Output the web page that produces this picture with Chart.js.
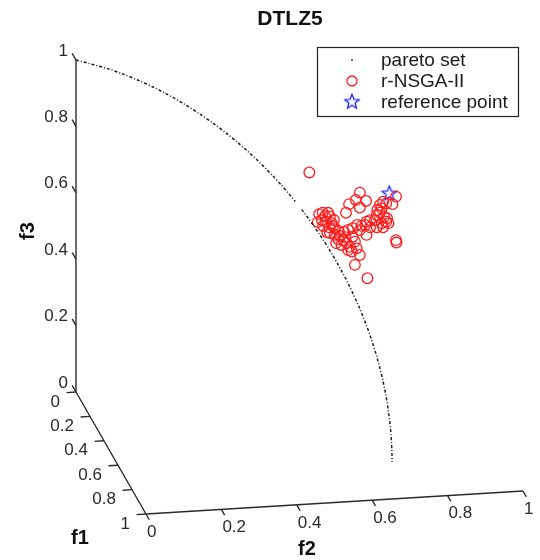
<!DOCTYPE html>
<html>
<head>
<meta charset="utf-8">
<title>DTLZ5</title>
<script src="https://cdn.jsdelivr.net/npm/chart.js@4.4.1/dist/chart.umd.min.js"></script>
<style>
  html, body { margin: 0; padding: 0; background: #fff; }
  #wrap { width: 540px; height: 560px; }
</style>
</head>
<body>
<div id="wrap"><canvas id="dtlzChart" width="540" height="560"></canvas></div>
<script>
// DTLZ5 pareto front: a curve, on it f1 and f2 are equal (null = gap in the plotted set)
let paretoF12 = [0, 0.0706, 0.0998, 0.1407, 0.1719, 0.1980, 0.2208, 0.2412, 0.2771, 0.3082,
                 0.3359, 0.3608, 0.3837, 0.4047, 0.4243, 0.4425, 0.4596, 0.4756, 0.4907, null,
                 0.5050, 0.5185, 0.5312, 0.5433, 0.5548, 0.5657, 0.5760, 0.5858, 0.5951, 0.6040,
                 0.6124, 0.6203, 0.6279, 0.6350, 0.6417, 0.6481, 0.6541, 0.6597, 0.6650, 0.6699,
                 0.6745, 0.6788, 0.6828, 0.6864, 0.6898, 0.6928, 0.6956, 0.6980, 0.7001, 0.7020,
                 0.7036, 0.7048, 0.7058, 0.7065, 0.7070, 0.7071],
    paretoF3 = [1.00, 0.995, 0.99, 0.98, 0.97, 0.96, 0.95, 0.94, 0.92, 0.90,
                0.88, 0.86, 0.84, 0.82, 0.80, 0.78, 0.76, 0.74, 0.72, null,
                0.70, 0.68, 0.66, 0.64, 0.62, 0.60, 0.58, 0.56, 0.54, 0.52,
                0.50, 0.48, 0.46, 0.44, 0.42, 0.40, 0.38, 0.36, 0.34, 0.32,
                0.30, 0.28, 0.26, 0.24, 0.22, 0.20, 0.18, 0.16, 0.14, 0.12,
                0.10, 0.08, 0.06, 0.04, 0.02, 0.00],

    // r-NSGA-II final population (f1 taken equal to f2)
    nsgaF12 = [0.522, 0.635, 0.611, 0.626, 0.649, 0.635, 0.604, 0.716, 0.708, 0.687,
               0.680, 0.674, 0.673, 0.680, 0.689, 0.669, 0.694, 0.699, 0.684, 0.650,
               0.639, 0.658, 0.673, 0.687, 0.629, 0.619, 0.609, 0.619, 0.650, 0.635,
               0.716, 0.717, 0.552, 0.564, 0.568, 0.550, 0.559, 0.572, 0.553, 0.567,
               0.579, 0.568, 0.579, 0.591, 0.587, 0.598, 0.594, 0.606, 0.613, 0.624,
               0.628, 0.617, 0.609, 0.635, 0.624, 0.652, 0.658, 0.647, 0.696, 0.684,
               0.694, 0.557, 0.577, 0.562, 0.588, 0.602, 0.544, 0.541, 0.575, 0.600,
               0.582],
    nsgaF3 = [0.817, 0.790, 0.748, 0.765, 0.769, 0.745, 0.720, 0.802, 0.777, 0.778,
              0.766, 0.749, 0.734, 0.743, 0.733, 0.717, 0.720, 0.717, 0.712, 0.707,
              0.691, 0.692, 0.697, 0.701, 0.691, 0.678, 0.670, 0.652, 0.667, 0.677,
              0.671, 0.664, 0.705, 0.708, 0.698, 0.682, 0.680, 0.679, 0.665, 0.665,
              0.666, 0.648, 0.646, 0.646, 0.635, 0.636, 0.620, 0.629, 0.620, 0.639,
              0.620, 0.607, 0.609, 0.602, 0.569, 0.537, 0.714, 0.696, 0.731, 0.757,
              0.775, 0.696, 0.690, 0.649, 0.660, 0.646, 0.698, 0.673, 0.671, 0.661,
              0.622],

    refF1 = [0.701],
    refF2 = [0.701],
    refF3 = [0.808],

    axisTicks = [0, 0.2, 0.4, 0.6, 0.8, 1],
    tickLabels = ['0', '0.2', '0.4', '0.6', '0.8', '1'];

// screen direction of one unit along f1, f2 and f3 (the 3D view)
const viewF1 = [0.2108, -0.3675],
      viewF2 = [1.1355, 0.0693],
      viewF3 = [0, 1];

function project(f1, f2, f3) {
    if (f1 === null || f2 === null || f3 === null) {
        return { x: null, y: null };
    }
    return {
        x: f1 * viewF1[0] + f2 * viewF2[0] + f3 * viewF3[0],
        y: f1 * viewF1[1] + f2 * viewF2[1] + f3 * viewF3[1]
    };
}

const paretoPoints = paretoF3.map((f3, i) => project(paretoF12[i], paretoF12[i], f3));
const nsgaPoints = nsgaF3.map((f3, i) => project(nsgaF12[i], nsgaF12[i], f3));
const refPoints = refF3.map((f3, i) => project(refF1[i], refF2[i], f3));

// blue five pointed star marker, drawn once
function makeStar(color) {
    const c = document.createElement('canvas');
    c.width = 18;
    c.height = 18;
    const g = c.getContext('2d');
    g.strokeStyle = color;
    g.lineWidth = 1.2;
    g.beginPath();
    for (let k = 0; k < 10; k++) {
        const r = k % 2 === 0 ? 7.6 : 3.3;
        const a = -Math.PI / 2 + k * Math.PI / 5;
        const x = 9 + r * Math.cos(a), y = 9.5 + r * Math.sin(a);
        if (k === 0) g.moveTo(x, y); else g.lineTo(x, y);
    }
    g.closePath();
    g.stroke();
    return c;
}
const starMarker = makeStar('#1414ff');

const axisFont = '17px "Liberation Sans", Arial, sans-serif';
const labelFont = 'bold 20px "Liberation Sans", Arial, sans-serif';

// 3D box axes, ticks and labels
const axes3d = {
    id: 'axes3d',
    beforeDatasetsDraw(chart) {
        const ctx = chart.ctx,
            xs = chart.scales.x,
            ys = chart.scales.y;
        const px = (f1, f2, f3) => {
            const p = project(f1, f2, f3);
            return [xs.getPixelForValue(p.x), ys.getPixelForValue(p.y)];
        };
        const seg = (a, b) => {
            ctx.beginPath();
            ctx.moveTo(a[0], a[1]);
            ctx.lineTo(b[0], b[1]);
            ctx.stroke();
        };

        ctx.save();
        ctx.strokeStyle = '#2a2a2a';
        ctx.lineWidth = 1.4;
        ctx.fillStyle = '#2a2a2a';
        ctx.font = axisFont;
        ctx.textBaseline = 'middle';

        // f3 axis, ticks pointing back along -f1
        seg(px(0, 0, 0), px(0, 0, 1));
        ctx.textAlign = 'right';
        axisTicks.forEach((t, i) => {
            const p = px(0, 0, t);
            seg(p, px(-0.055, 0, t));
            ctx.fillText(tickLabels[i], p[0] - 8, p[1] - 9);
        });

        // f1 axis, ticks pointing along -f2
        seg(px(0, 0, 0), px(1, 0, 0));
        axisTicks.forEach((t, i) => {
            const p = px(t, 0, 0);
            seg(p, px(t, -0.025, 0));
            ctx.fillText(tickLabels[i], p[0] - 16, p[1] + 10);
        });

        // f2 axis at f1 = 1, ticks pointing along +f1
        seg(px(1, 0, 0), px(1, 1, 0));
        ctx.textAlign = 'left';
        axisTicks.forEach((t, i) => {
            const p = px(1, t, 0);
            seg(p, px(1.047, t, 0));
            ctx.fillText(tickLabels[i], p[0] + 1, p[1] + 18);
        });

        // axis names
        ctx.fillStyle = '#111';
        ctx.font = labelFont;
        ctx.textAlign = 'center';
        ctx.fillText('f1', 80, 538);
        ctx.fillText('f2', 307, 549);
        ctx.save();
        ctx.translate(28, 231);
        ctx.rotate(-Math.PI / 2);
        ctx.fillText('f3', 0, 0);
        ctx.restore();

        ctx.restore();
    },
    afterDraw(chart) {
        const ctx = chart.ctx;
        ctx.save();

        // title
        ctx.fillStyle = '#111';
        ctx.font = 'bold 21px "Liberation Sans", Arial, sans-serif';
        ctx.textAlign = 'center';
        ctx.textBaseline = 'middle';
        ctx.fillText('DTLZ5', 290, 19);

        // legend box in the upper right corner of the axes
        ctx.fillStyle = '#fff';
        ctx.fillRect(317, 47, 201, 69);
        ctx.strokeStyle = '#222';
        ctx.lineWidth = 1.2;
        ctx.strokeRect(317.5, 47.5, 201, 69);

        const rows = [60, 81, 102],
            markX = 352;
        ctx.font = '19px "Liberation Sans", Arial, sans-serif';
        ctx.textAlign = 'left';
        chart.data.datasets.forEach((ds, i) => {
            const y = rows[i];
            if (i === 0) {
                ctx.fillStyle = '#222';
                ctx.fillRect(markX - 0.8, y - 0.8, 1.6, 1.6);
            } else if (i === 1) {
                ctx.strokeStyle = ds.borderColor;
                ctx.lineWidth = 1.3;
                ctx.beginPath();
                ctx.arc(markX, y, 5, 0, Math.PI * 2);
                ctx.stroke();
            } else {
                ctx.drawImage(starMarker, markX - 9, y - 9.5);
            }
            ctx.fillStyle = '#1a1a1a';
            ctx.fillText(ds.label, 381, y + 1);
        });

        ctx.restore();
    }
};

new Chart(document.getElementById('dtlzChart'), {
    type: 'scatter',
    data: {
        datasets: [
            {
                label: 'pareto set',
                data: paretoPoints,
                showLine: true,
                spanGaps: false,
                borderColor: '#1e1e1e',
                borderWidth: 1.5,
                borderDash: [3, 2, 1, 2],
                tension: 0.3,
                pointRadius: 0
            },
            {
                label: 'r-NSGA-II',
                data: nsgaPoints,
                pointStyle: 'circle',
                pointRadius: 5.3,
                borderColor: '#ff1a1a',
                backgroundColor: 'rgba(0,0,0,0)',
                borderWidth: 1.3
            },
            {
                label: 'reference point',
                data: refPoints,
                pointStyle: starMarker,
                pointRadius: 9
            }
        ]
    },
    options: {
        responsive: false,
        animation: false,
        layout: { padding: 0, autoPadding: false },
        plugins: {
            legend: { display: false },
            title: { display: false },
            tooltip: { enabled: false }
        },
        scales: {
            x: { type: 'linear', display: false, min: -0.2289, max: 1.3976 },
            y: { type: 'linear', display: false, min: -0.5060, max: 1.1807 }
        }
    },
    plugins: [axes3d]
});
</script>
</body>
</html>
